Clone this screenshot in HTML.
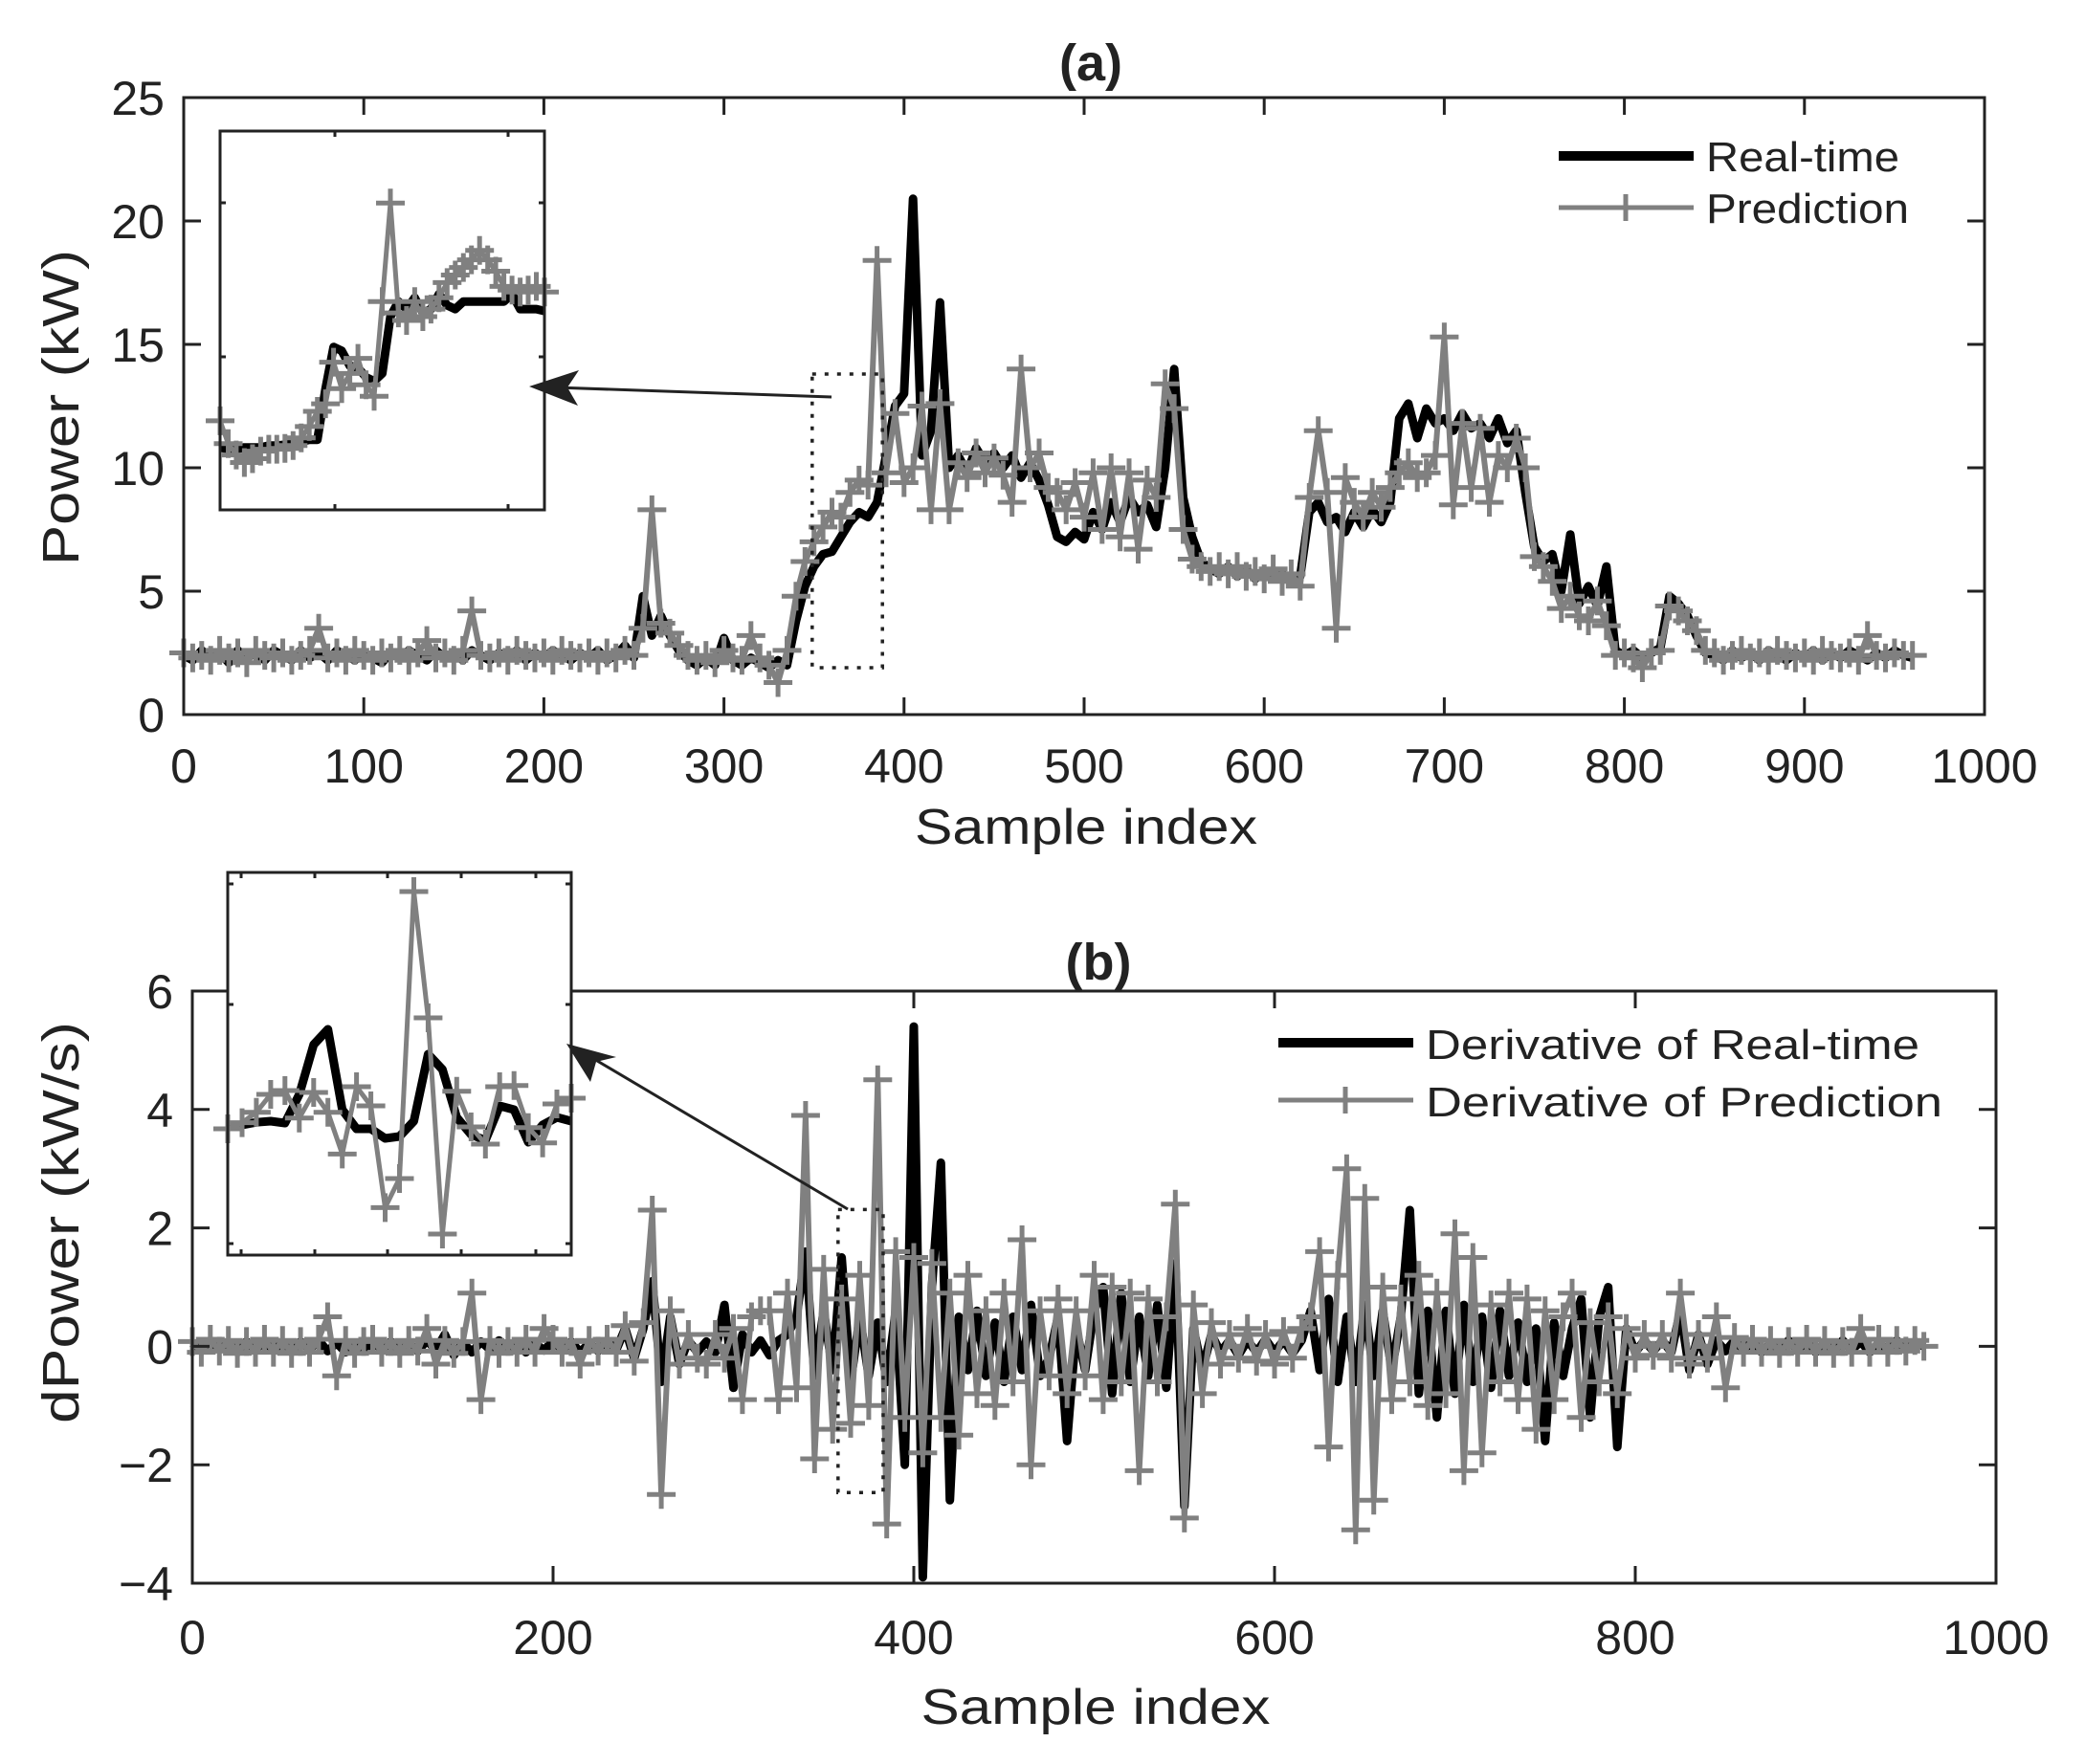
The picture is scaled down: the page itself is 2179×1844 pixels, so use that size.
<!DOCTYPE html>
<html><head><meta charset="utf-8"><style>
html,body{margin:0;padding:0;background:#fff;}
svg{display:block;font-family:"Liberation Sans",Arial,sans-serif;}
</style></head><body>
<svg id="chart" xmlns="http://www.w3.org/2000/svg" width="2179" height="1844" viewBox="0 0 2179 1844">
<rect x="0" y="0" width="2179" height="1844" fill="#fff"/>
<g id="gA"></g>
<g id="gB"></g>
</svg>
<script>
// ---------- data (step of 5 samples) ----------
const sampleStep = 5;
const xTicksA = [0,100,200,300,400,500,600,700,800,900,1000];
const yTicksA = [0,5,10,15,20,25];
const xTicksB = [0,200,400,600,800,1000];
const yTicksB = [-4,-2,0,2,4,6];
const yTickLabelsB = ["\u22124","\u22122","0","2","4","6"];
const realTime = [2.4,2.2,2.6,2.3,2.5,2.1,2.6,2.3,2.5,2.2,
2.6,2.4,2.2,2.6,2.3,2.5,2.2,2.6,2.4,2.2,
2.5,2.3,2.1,2.5,2.3,2.6,2.4,2.2,2.6,2.3,
2.5,2.2,2.6,2.4,2.2,2.5,2.3,2.6,2.2,2.5,
2.3,2.6,2.4,2.2,2.5,2.3,2.6,2.2,2.4,2.8,
2.3,4.8,3.2,4.0,3.2,2.6,2.2,2.0,2.3,2.0,
3.1,2.2,2.0,2.3,2.1,1.9,2.2,2.0,3.8,5.2,
6.0,6.5,6.6,7.2,7.8,8.2,8.0,8.6,10.5,12.5,
13.0,20.9,10.5,11.5,16.7,10.0,10.5,9.8,10.8,10.2,
10.6,10.0,10.5,9.6,10.2,9.5,8.5,7.2,7.0,7.4,
7.1,8.2,7.5,8.6,7.8,8.8,8.2,8.5,7.6,10.0,
14.0,8.8,7.2,6.2,5.9,5.7,6.0,5.6,5.9,5.5,
5.8,5.5,5.7,5.4,5.6,8.2,8.6,7.8,8.0,7.4,
8.2,7.6,8.3,7.8,8.6,12.0,12.6,11.2,12.4,11.8,
12.0,11.5,12.2,11.6,11.8,11.2,12.0,11.0,11.5,9.0,
6.8,6.2,6.5,5.0,7.3,4.5,5.2,4.4,6.0,2.6,
2.4,2.6,2.3,2.5,2.7,4.8,4.5,4.0,3.2,2.5,
2.4,2.2,2.6,2.3,2.5,2.2,2.6,2.4,2.2,2.5,
2.3,2.6,2.2,2.5,2.3,2.6,2.4,2.2,2.5,2.3,
2.6,2.4,2.3];
const prediction = [2.5,2.3,2.4,2.2,2.6,2.3,2.5,2.1,2.6,2.4,
2.3,2.5,2.2,2.4,2.6,3.5,2.3,2.5,2.2,2.6,
2.4,2.2,2.5,2.3,2.6,2.2,2.5,3.0,2.3,2.5,
2.2,2.6,4.2,2.4,2.3,2.5,2.2,2.6,2.4,2.3,
2.5,2.2,2.6,2.4,2.3,2.5,2.2,2.5,2.3,2.6,
2.4,3.5,8.3,3.7,3.3,2.8,2.4,2.2,2.4,2.1,
2.6,2.3,2.2,3.2,2.3,2.0,1.3,2.6,4.8,6.2,
7.0,7.6,8.2,8.0,9.0,9.5,9.3,18.4,9.8,12.2,
9.4,10.0,12.5,8.3,12.6,8.3,10.2,9.6,10.6,9.8,
10.4,9.7,8.6,14.0,10.0,10.6,9.2,9.0,8.3,9.4,
8.0,9.8,7.5,10.0,7.2,9.8,6.7,9.5,8.8,13.4,
12.4,7.5,6.3,6.0,5.8,6.0,5.7,6.0,5.6,5.8,
5.5,5.9,5.4,5.7,5.2,8.8,11.5,9.0,3.5,9.6,
8.6,8.0,9.0,8.4,9.2,9.8,10.2,9.6,9.8,10.5,
15.3,8.5,11.8,9.2,11.6,8.6,10.5,10.0,11.2,10.0,
6.4,6.0,5.4,4.3,4.8,4.0,3.8,4.6,3.6,2.4,
2.5,2.3,1.9,2.5,2.6,4.4,4.2,3.8,3.4,2.6,
2.5,2.2,2.4,2.6,2.3,2.5,2.2,2.6,2.4,2.3,
2.5,2.2,2.6,2.4,2.3,2.5,2.2,3.2,2.4,2.3,
2.5,2.4,2.4];
const derivReal = [0.05,-0.08,0.1,-0.05,0.07,-0.1,0.08,-0.06,0.1,-0.07,
0.06,-0.1,0.08,-0.05,0.1,-0.08,0.06,-0.1,0.05,-0.07,
0.1,-0.06,0.08,-0.1,0.05,-0.08,0.1,-0.06,0.2,-0.15,
0.06,-0.1,0.08,-0.05,0.1,-0.08,0.06,-0.1,0.05,-0.07,
0.1,-0.06,0.08,-0.1,0.05,-0.08,0.1,-0.06,0.3,-0.2,
0.3,1.1,-0.6,0.5,-0.3,0.1,-0.1,0.08,-0.1,0.7,
-0.7,0.2,-0.1,0.1,-0.15,0.1,0.2,0.5,1.6,-0.5,
0.6,-0.4,1.5,-0.6,0.5,-0.5,0.4,-0.6,0.6,-2.0,
5.4,-3.9,1.0,3.1,-2.6,0.5,-0.4,0.6,-0.5,0.4,
-0.6,0.5,-0.4,0.7,-0.5,-0.2,0.5,-1.6,0.3,-0.4,
0.6,1.0,-0.8,0.9,-0.6,0.5,-0.5,0.7,-0.7,1.4,
-2.7,0.3,-0.4,0.2,-0.1,0.1,-0.15,0.1,-0.1,0.12,
-0.1,0.1,-0.12,0.1,0.6,-0.4,0.8,-0.6,0.5,-0.6,
0.7,-0.5,0.6,-0.4,0.5,2.3,-0.8,0.6,-1.2,0.6,
-0.8,0.7,-0.6,0.5,-0.7,0.6,-0.5,0.4,-0.6,0.3,
-1.6,0.4,-0.5,0.3,0.8,-1.2,0.5,1.0,-1.7,0.3,
-0.1,0.1,-0.08,0.1,-0.1,0.6,-0.4,0.2,-0.3,0.1,
-0.08,0.1,-0.06,0.08,-0.1,0.05,-0.08,0.1,-0.06,0.08,
-0.1,0.05,-0.08,0.1,-0.06,0.08,-0.1,0.05,-0.08,0.1,
-0.06,0.08,0.0];
const derivPred = [0.08,-0.1,0.12,-0.08,0.1,-0.12,0.08,-0.1,0.12,-0.1,
0.1,-0.12,0.08,-0.1,0.12,0.5,-0.5,0.1,-0.12,0.08,
0.12,-0.1,0.08,-0.12,0.1,-0.08,0.3,-0.3,0.1,-0.12,
0.08,0.9,-0.9,0.1,-0.12,0.08,-0.1,0.12,-0.1,0.3,
0.12,-0.1,0.08,-0.3,0.1,-0.08,0.12,-0.1,0.35,-0.25,
0.4,2.3,-2.5,0.6,-0.3,0.2,-0.2,-0.3,0.2,-0.2,
0.3,-0.9,0.5,0.6,0.6,-0.9,0.9,-0.7,3.9,-1.9,
1.3,-1.4,0.8,-1.3,1.2,-1.0,4.5,-3.0,1.6,-1.2,
1.5,-1.8,1.4,-1.2,0.9,-1.5,1.2,-0.8,0.6,-1.0,
0.9,-0.6,1.8,-2.0,0.6,-0.5,0.8,-0.8,0.6,-0.5,
1.2,-0.9,1.0,-0.6,0.9,-2.1,0.8,-0.6,0.5,2.4,
-2.9,0.7,-0.8,0.4,-0.3,0.2,-0.2,0.3,-0.25,0.2,
-0.3,0.25,-0.2,0.3,0.5,1.6,-1.7,1.2,3.0,-3.1,
2.5,-2.6,1.0,-0.9,0.8,-0.6,1.2,-1.0,0.9,-0.8,
1.9,-2.1,1.5,-1.8,0.7,-0.6,0.9,-0.9,0.8,-1.4,
0.6,-0.9,0.5,0.9,-1.2,0.4,-0.6,0.5,-0.8,0.3,
-0.2,0.2,-0.15,0.2,-0.2,0.9,-0.3,0.2,-0.2,0.5,
-0.7,0.15,-0.1,0.12,-0.1,0.1,-0.12,0.08,-0.1,0.12,
-0.1,0.1,-0.12,0.08,-0.1,0.3,-0.1,0.12,-0.1,0.1,
-0.08,0.1,0.0];
// inset (a): zoomed samples, relative units 0..10
const insetARealTime = [1.65,1.6,1.6,1.65,1.65,1.65,1.7,1.7,1.72,1.75,1.8,1.85,1.85,3.2,4.3,4.2,3.8,3.75,3.5,3.4,3.6,5.1,5.5,5.3,5.6,5.2,5.3,5.7,5.4,5.3,5.5,5.5,5.5,5.5,5.5,5.5,5.7,5.3,5.3,5.3,5.25];
const insetAPrediction = [2.35,1.75,1.45,1.25,1.35,1.55,1.6,1.6,1.62,1.7,1.9,2.2,2.6,2.8,3.9,3.2,3.6,4.0,3.3,3.0,5.5,8.1,5.2,5.0,5.5,5.1,5.3,5.6,6.0,6.2,6.4,6.6,6.85,6.6,6.3,5.9,5.8,5.75,5.8,5.9,5.75];
// inset (b)
const insetBReal = [3.38,3.4,3.47,3.5,3.45,4.2,5.5,5.9,3.8,3.3,3.3,3.05,3.1,3.5,5.25,4.85,3.6,3.15,3.0,3.9,3.8,2.95,3.4,3.6,3.5];
const insetBPred = [3.3,3.46,3.73,4.2,4.3,3.58,4.25,3.73,2.64,4.4,3.9,1.24,2.0,9.5,6.2,0.55,4.28,3.35,2.9,4.4,4.43,3.33,2.93,3.95,4.1];
// zoom window boxes (data units)
const zoomBoxA = {x0:349, x1:388, y0:1.9, y1:13.8};
const zoomBoxB = {x0:358, x1:383, y0:-2.47, y1:2.31};

// ---------- helpers ----------
const NS = "http://www.w3.org/2000/svg";
function mk(tag, attrs, parent){const e=document.createElementNS(NS,tag);for(const k in attrs)e.setAttribute(k,attrs[k]);parent.appendChild(e);return e;}
function lin(d0,d1,r0,r1){return v=>r0+(v-d0)*(r1-r0)/(d1-d0);}
const DARK="#222", GRAY="#808080";

function plusPath(pts, s){let d="";pts.forEach(p=>{d+=`M${(p[0]-s).toFixed(1)} ${p[1].toFixed(1)}h${2*s}M${p[0].toFixed(1)} ${(p[1]-s).toFixed(1)}v${2*s}`;});return d;}
function linePath(pts){return pts.map((p,i)=>(i?"L":"M")+p[0].toFixed(1)+" "+p[1].toFixed(1)).join("");}

function panel(g, cfg){
  const {L,R,T,B,xs,ys} = cfg;
  const ptsR = cfg.real.map((v,i)=>[xs(i*sampleStep), ys(v)]);
  const ptsP = cfg.pred.map((v,i)=>[xs(i*sampleStep), ys(v)]);
  const r = mk("path",{d:linePath(ptsR),fill:"none",stroke:"#000","stroke-width":9,"stroke-linejoin":"round"},g);
  
  
  const p = mk("path",{d:linePath(ptsP),fill:"none",stroke:GRAY,"stroke-width":6,"stroke-linejoin":"round"},g);
  
  
  const m = mk("path",{d:plusPath(ptsP,15),fill:"none",stroke:GRAY,"stroke-width":5},g);
  
  
  const box = mk("rect",{x:L,y:T,width:R-L,height:B-T,fill:"none",stroke:DARK,"stroke-width":3},g);
  
  
  cfg.xTicks.forEach(t=>{
    const x=xs(t);
    const tk=mk("path",{d:`M${x} ${B}v-18M${x} ${T}v18`,stroke:DARK,"stroke-width":3},g);
    
    
    const tl=mk("text",{x:x,y:cfg.xLabY,"text-anchor":"middle","font-size":50,fill:DARK},g);
    tl.textContent=String(t);
    
    
  });
  cfg.yTicks.forEach((t,i)=>{
    const y=ys(t);
    const tk=mk("path",{d:`M${L} ${y}h18M${R} ${y}h-18`,stroke:DARK,"stroke-width":3},g);
    
    
    const tl=mk("text",{x:L-20,y:y+18,"text-anchor":"end","font-size":50,fill:DARK},g);
    tl.textContent=cfg.yLabels[i];
    
    
  });
}

function inset(g, cfg){
  const {L,R,T,B} = cfg;
  const bg = mk("rect",{x:L,y:T,width:R-L,height:B-T,fill:"#fff"},g);
  
  
  const xr = lin(0,cfg.real.length-1,L,R), xp = lin(0,cfg.pred.length-1,L,R), y = lin(0,10,B,T);
  const ptsR = cfg.real.map((v,i)=>[xr(i),y(v)]);
  const ptsP = cfg.pred.map((v,i)=>[xp(i),y(v)]);
  const r = mk("path",{d:linePath(ptsR),fill:"none",stroke:"#000","stroke-width":9,"stroke-linejoin":"round"},g);
  
  
  const p = mk("path",{d:linePath(ptsP),fill:"none",stroke:GRAY,"stroke-width":5},g);
  
  
  const m = mk("path",{d:plusPath(ptsP,15),fill:"none",stroke:GRAY,"stroke-width":5},g);
  
  
  const box = mk("rect",{x:L,y:T,width:R-L,height:B-T,fill:"none",stroke:DARK,"stroke-width":3},g);
  
  
  let d="";
  cfg.xt.forEach(x=>{d+=`M${x} ${B}v-6M${x} ${T}v6`;});
  cfg.yt.forEach(yy=>{d+=`M${L} ${yy}h6M${R} ${yy}h-6`;});
  const tk = mk("path",{d:d,stroke:DARK,"stroke-width":3},g);
  
  
}

function txt(g, attrs, s, name){
  const t = mk("text", attrs, g); t.textContent = s;
  
  
  return t;
}

// ---------- panel a ----------
const gA = document.getElementById("gA");
const xsA = lin(0,1000,192,2074), ysA = lin(0,25,747,102);
panel(gA,{L:192,R:2074,T:102,B:747,xs:xsA,ys:ysA,real:realTime,pred:prediction,
  realName:'real-time-line',predName:'prediction-line',xTicks:xTicksA,yTicks:yTicksA,
  yLabels:yTicksA.map(String),xLabY:818});
const zbA = mk("rect",{x:xsA(zoomBoxA.x0),y:ysA(zoomBoxA.y1),width:xsA(zoomBoxA.x1)-xsA(zoomBoxA.x0),height:ysA(zoomBoxA.y0)-ysA(zoomBoxA.y1),fill:"none",stroke:"#222","stroke-width":3.5,"stroke-dasharray":"4 9"},gA);


inset(gA,{L:230,R:569,T:137,B:533,real:insetARealTime,pred:insetAPrediction,xt:[350,531],yt:[212,373]});
const arA = mk("path",{d:"M869 415L580 405",stroke:DARK,"stroke-width":3},gA);


const ahA = mk("path",{d:"M553 404L605 387L593 405L604 424Z",fill:DARK},gA);


txt(gA,{x:1140,y:84,"text-anchor":"middle","font-size":54,"font-weight":"bold",fill:DARK},"(a)","panel-a-title");
txt(gA,{x:1135,y:882,"text-anchor":"middle","font-size":52,fill:DARK,textLength:358,lengthAdjust:"spacingAndGlyphs"},"Sample index","x-axis-title-a");
txt(gA,{x:0,y:0,"text-anchor":"middle","font-size":54,fill:DARK,transform:"translate(82,426) rotate(-90)",textLength:330,lengthAdjust:"spacingAndGlyphs"},"Power (kW)","y-axis-title-a");
const lgA1 = mk("path",{d:"M1629 163H1770",stroke:"#000","stroke-width":10},gA);


const lgA2 = mk("path",{d:"M1629 217H1770M1699 203V231",stroke:GRAY,"stroke-width":5},gA);


txt(gA,{x:1783,y:179,"font-size":44,fill:DARK,textLength:202,lengthAdjust:"spacingAndGlyphs"},"Real-time","legend-real-time-label");
txt(gA,{x:1783,y:233,"font-size":44,fill:DARK,textLength:212,lengthAdjust:"spacingAndGlyphs"},"Prediction","legend-prediction-label");

// ---------- panel b ----------
const gB = document.getElementById("gB");
const xsB = lin(0,1000,201,2086), ysB = lin(-4,6,1655,1036);
panel(gB,{L:201,R:2086,T:1036,B:1655,xs:xsB,ys:ysB,real:derivReal,pred:derivPred,
  realName:'derivative-real-time-line',predName:'derivative-prediction-line',xTicks:xTicksB,yTicks:yTicksB,
  yLabels:yTickLabelsB,xLabY:1729});
const zbB = mk("rect",{x:xsB(zoomBoxB.x0),y:ysB(zoomBoxB.y1),width:xsB(zoomBoxB.x1)-xsB(zoomBoxB.x0),height:ysB(zoomBoxB.y0)-ysB(zoomBoxB.y1),fill:"none",stroke:"#222","stroke-width":3.5,"stroke-dasharray":"4 9"},gB);


inset(gB,{L:238,R:597,T:912,B:1312,real:insetBReal,pred:insetBPred,xt:[252,329,405,482,560],yt:[924,1050,1300]});
const arB = mk("path",{d:"M886 1264L614 1103",stroke:DARK,"stroke-width":3},gB);


const ahB = mk("path",{d:"M592 1091L644 1105L623 1110L617 1131Z",fill:DARK},gB);


txt(gB,{x:1148,y:1024,"text-anchor":"middle","font-size":54,"font-weight":"bold",fill:DARK},"(b)","panel-b-title");
txt(gB,{x:1145,y:1802,"text-anchor":"middle","font-size":52,fill:DARK,textLength:365,lengthAdjust:"spacingAndGlyphs"},"Sample index","x-axis-title-b");
txt(gB,{x:0,y:0,"text-anchor":"middle","font-size":54,fill:DARK,transform:"translate(82,1278) rotate(-90)",textLength:420,lengthAdjust:"spacingAndGlyphs"},"dPower (kW/s)","y-axis-title-b");
const lgB1 = mk("path",{d:"M1336 1090H1477",stroke:"#000","stroke-width":10},gB);


const lgB2 = mk("path",{d:"M1336 1150H1477M1406 1136V1164",stroke:GRAY,"stroke-width":5},gB);


txt(gB,{x:1490,y:1107,"font-size":44,fill:DARK,textLength:516,lengthAdjust:"spacingAndGlyphs"},"Derivative of Real-time","legend-derivative-real-time-label");
txt(gB,{x:1490,y:1167,"font-size":44,fill:DARK,textLength:540,lengthAdjust:"spacingAndGlyphs"},"Derivative of Prediction","legend-derivative-prediction-label");
</script>
</body></html>
